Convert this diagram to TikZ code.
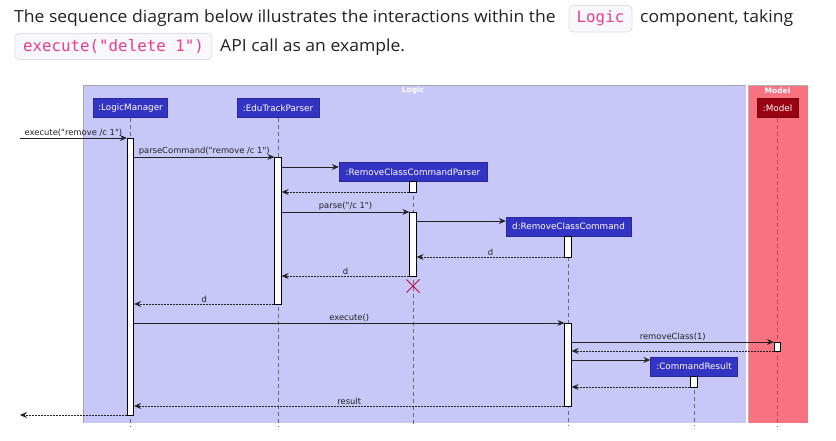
\documentclass[tikz,border=0pt]{standalone}
\usepackage{fontspec}
\setmainfont[FakeStretch=1.05]{Open Sans}
\newfontfamily\diafont{DejaVu Sans}
\newfontfamily\codefont{DejaVu Sans Mono}
\usetikzlibrary{arrows.meta}

\definecolor{logicbg}{RGB}{200,200,248}
\definecolor{modelbg}{RGB}{249,114,130}
\definecolor{partblue}{RGB}{51,51,196}
\definecolor{partred}{RGB}{153,0,18}
\definecolor{codepink}{RGB}{232,62,140}
\definecolor{codebg}{RGB}{248,248,252}
\definecolor{codeborder}{RGB}{222,222,232}
\definecolor{ink}{RGB}{34,34,34}
\definecolor{xred}{RGB}{200,0,60}

\tikzset{
  para/.style={anchor=base west, inner sep=0pt, text=ink, font=\fontsize{16.7}{19}\selectfont},
  codebox/.style={draw=codeborder, fill=codebg, rounded corners=4pt, line width=0.8pt},
  codetext/.style={anchor=base, inner sep=0pt, text=codepink, font=\codefont\fontsize{15.8}{17}\selectfont},
  frametitle/.style={text=white, font=\diafont\bfseries\fontsize{7.5}{8}\selectfont, inner sep=0pt},
  part/.style={fill=partblue, draw=partblue!80!black, line width=0.4pt, text=white,
    font=\diafont\fontsize{8.8}{10}\selectfont, minimum height=19pt, inner sep=1pt},
  actbar/.style={fill=white, draw=black, line width=0.8pt, minimum width=6.5pt, inner sep=0pt},
  life/.style={draw=gray!85!black, dash pattern=on 4pt off 3pt, line width=0.6pt},
  msg/.style={draw=ink, line width=0.7pt, -{Stealth[length=7pt,width=6pt,inset=2.5pt]}},
  ret/.style={msg, dash pattern=on 2pt off 1pt},
  lbl/.style={font=\diafont\fontsize{8.4}{9}\selectfont, text=ink, inner sep=1.5pt, above}
}

\begin{document}
\begin{tikzpicture}[x=1pt, y=-1pt]
\useasboundingbox (0,0) rectangle (836,441);
\fill[white] (0,0) rectangle (836,441);

% introductory sentence with inline code
\draw[codebox] (569,5.5) rectangle (632,32);
\draw[codebox] (15,33.5) rectangle (212,59.5);
\node[para] (t1) at (14,23) {The sequence diagram below illustrates the interactions within the};
\node[codetext] (c1) at (600.5,23) {Logic};
\node[para] (t2) at (640,23) {component, taking};
\node[codetext] (c2) at (113.5,51.5) {execute("delete 1")};
\node[para] (t3) at (220,51.5) {API call as an example.};

% component frames
\fill[logicbg] (83,85) rectangle (746,423);
\draw[gray!70, line width=0.8pt] (83,423) -- (83,85) -- (746,85);
\fill[modelbg] (748,85) rectangle (808,423);
\draw[gray!60, line width=0.6pt] (748,423) -- (748,85) -- (808,85);
\node[frametitle] (lt) at (413,90.5) {Logic};
\node[frametitle] (mt) at (777.5,90.5) {Model};

% participants
\node[part, minimum width=74pt] (lm) at (130.5,108) {:LogicManager};
\node[part, minimum width=82pt] (etp) at (278,108) {:EduTrackParser};
\node[part, minimum width=148pt] (rccp) at (413,172) {:RemoveClassCommandParser};
\node[part, minimum width=125pt] (rcc) at (568.5,226.5) {d:RemoveClassCommand};
\node[part, minimum width=87pt] (cr) at (694,366.5) {:CommandResult};
\node[part, fill=partred, draw=partred!80!black, minimum width=41pt] (mdl) at (777.5,108) {:Model};

% lifelines
\coordinate (bot) at (0,426);
\draw[life] (lm.south) -- (lm.south |- bot);
\draw[life] (etp.south) -- (etp.south |- bot);
\draw[life] (rccp.south) -- (rccp.south |- bot);
\draw[life] (rcc.south) -- (rcc.south |- bot);
\draw[life] (cr.south) -- (cr.south |- bot);
\draw[life, draw=partred!70] (mdl.south) -- (mdl.south |- bot);

% activation bars
\node[actbar, minimum height=277pt] (lmA) at (130.5,276.5) {};
\node[actbar, minimum height=147pt] (etpA) at (278,230.5) {};
\node[actbar, minimum height=11pt] (rccpA) at (413,186.5) {};
\node[actbar, minimum height=64pt] (rccpB) at (413,244) {};
\node[actbar, minimum height=21pt] (rccA) at (568,246.5) {};
\node[actbar, minimum height=83pt] (rccB) at (568,364.5) {};
\node[actbar, minimum height=9pt] (mdlA) at (777.5,346.5) {};
\node[actbar, minimum height=11pt] (crA) at (694,381.5) {};

% message rows
\coordinate (in) at (20,138);
\coordinate (out) at (20,415);
\coordinate (r2) at (0,157);
\coordinate (r3) at (0,167);
\coordinate (r4) at (0,192);
\coordinate (r5) at (0,212);
\coordinate (r6) at (0,221);
\coordinate (r7) at (0,257);
\coordinate (r8) at (0,276);
\coordinate (r9) at (0,304);
\coordinate (r10) at (0,323);
\coordinate (r11) at (0,342);
\coordinate (r12) at (0,351);
\coordinate (r13) at (0,360);
\coordinate (r14) at (0,387);
\coordinate (r15) at (0,406);

% messages
\draw[msg] (in) -- (lmA.west |- in) node[lbl, midway] {execute("remove /c 1")};
\draw[msg] (lmA.east |- r2) -- (etpA.west |- r2) node[lbl, midway] {parseCommand("remove /c 1")};
\draw[msg] (etpA.east |- r3) -- (rccp.west |- r3);
\draw[ret] (rccpA.west |- r4) -- (etpA.east |- r4);
\draw[msg] (etpA.east |- r5) -- (rccpB.west |- r5) node[lbl, midway] {parse("/c 1")};
\draw[msg] (rccpB.east |- r6) -- (rcc.west |- r6);
\draw[ret] (rccA.west |- r7) -- (rccpB.east |- r7) node[lbl, midway] {d};
\draw[ret] (rccpB.west |- r8) -- (etpA.east |- r8) node[lbl, midway] {d};
\draw[ret] (etpA.west |- r9) -- (lmA.east |- r9) node[lbl, midway] {d};
\draw[msg] (lmA.east |- r10) -- (rccB.west |- r10) node[lbl, midway] {execute()};
\draw[msg] (rccB.east |- r11) -- (mdlA.west |- r11) node[lbl, midway] {removeClass(1)};
\draw[ret] (mdlA.west |- r12) -- (rccB.east |- r12);
\draw[msg] (rccB.east |- r13) -- (cr.west |- r13);
\draw[ret] (crA.west |- r14) -- (rccB.east |- r14);
\draw[ret] (rccB.west |- r15) -- (lmA.east |- r15) node[lbl, midway] {result};
\draw[ret] (lmA.west |- out) -- (out);

% destruction of the parser
\coordinate (dx) at (413,286);
\draw[xred, line width=1pt] ([shift={(-6.5,-6.5)}]dx) -- ([shift={(6.5,6.5)}]dx)
  ([shift={(-6.5,6.5)}]dx) -- ([shift={(6.5,-6.5)}]dx);
\end{tikzpicture}
\end{document}
